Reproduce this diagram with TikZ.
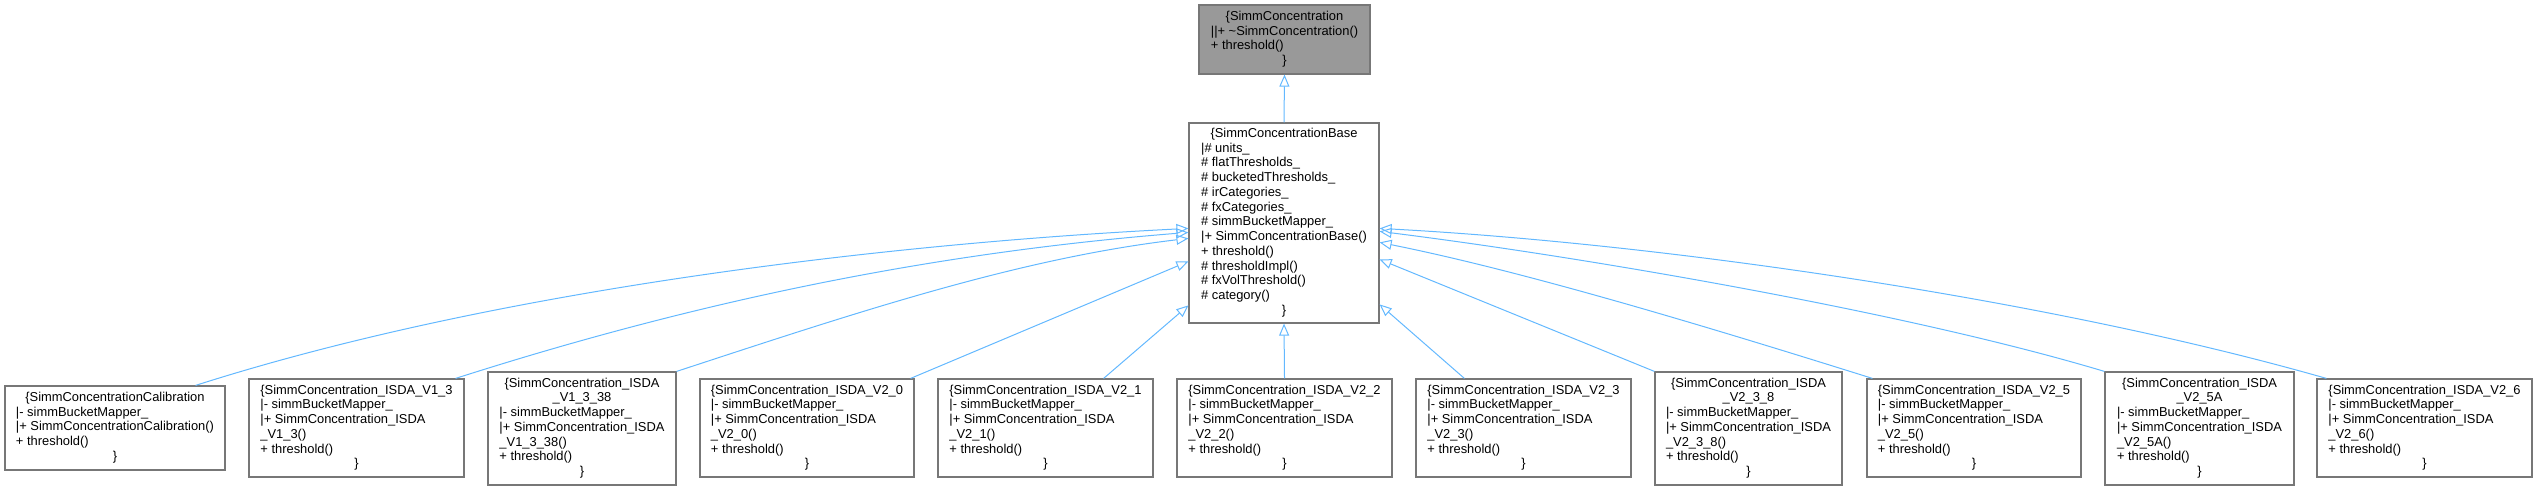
\documentclass[tikz,border=0pt]{standalone}
\usepackage{fontspec}
\setmainfont{Liberation Sans}
\usetikzlibrary{arrows.meta}
\definecolor{borde}{HTML}{777777}
\definecolor{relleno}{HTML}{999999}
\definecolor{herencia}{HTML}{63B8FF}
\newcommand{\centrado}[1]{\multicolumn{1}{@{}c@{}}{#1}}

\begin{document}
\begin{tikzpicture}[x=1pt,y=-1pt,
	clase/.style={draw=borde,line width=1.2pt,fill=white,inner sep=0pt,font=\fontsize{12.9}{14.75}\selectfont},
	hereda/.style={draw=herencia,line width=1pt,-{Triangle[open,length=12pt,width=10pt]}}]
			\useasboundingbox (0,0) rectangle (2537,491);

			% Clases base
			\node[clase,fill=relleno,minimum width=171pt,minimum height=69pt] (conc) at (1284.5,39.5) {\begin{tabular}{@{}l@{}}\centrado{\{SimmConcentration}\\||+ \textasciitilde SimmConcentration()\\+ threshold()\\\centrado{\}}\end{tabular}};
			\node[clase,minimum width=190pt,minimum height=200pt] (base) at (1284,223) {\begin{tabular}{@{}l@{}}\centrado{\{SimmConcentrationBase}\\|\# units\_\\\# flatThresholds\_\\\# bucketedThresholds\_\\\# irCategories\_\\\# fxCategories\_\\\# simmBucketMapper\_\\|+ SimmConcentrationBase()\\+ threshold()\\\# thresholdImpl()\\\# fxVolThreshold()\\\# category()\\\centrado{\}}\end{tabular}};

			% Clases hijas
			\node[clase,minimum width=220pt,minimum height=84pt] (calib) at (115,428) {\begin{tabular}{@{}l@{}}\centrado{\{SimmConcentrationCalibration}\\|- simmBucketMapper\_\\|+ SimmConcentrationCalibration()\\+ threshold()\\\centrado{\}}\end{tabular}};
			\node[clase,minimum width=215pt,minimum height=98pt] (v13) at (356.5,428) {\begin{tabular}{@{}l@{}}\centrado{\{SimmConcentration\_ISDA\_V1\_3}\\|- simmBucketMapper\_\\|+ SimmConcentration\_ISDA\\\_V1\_3()\\+ threshold()\\\centrado{\}}\end{tabular}};
			\node[clase,minimum width=188pt,minimum height=113pt] (v1338) at (582,428.5) {\begin{tabular}{@{}l@{}}\centrado{\{SimmConcentration\_ISDA}\\\centrado{\_V1\_3\_38}\\|- simmBucketMapper\_\\|+ SimmConcentration\_ISDA\\\_V1\_3\_38()\\+ threshold()\\\centrado{\}}\end{tabular}};
			\node[clase,minimum width=214pt,minimum height=98pt] (v20) at (807,428) {\begin{tabular}{@{}l@{}}\centrado{\{SimmConcentration\_ISDA\_V2\_0}\\|- simmBucketMapper\_\\|+ SimmConcentration\_ISDA\\\_V2\_0()\\+ threshold()\\\centrado{\}}\end{tabular}};
			\node[clase,minimum width=215pt,minimum height=98pt] (v21) at (1045.5,428) {\begin{tabular}{@{}l@{}}\centrado{\{SimmConcentration\_ISDA\_V2\_1}\\|- simmBucketMapper\_\\|+ SimmConcentration\_ISDA\\\_V2\_1()\\+ threshold()\\\centrado{\}}\end{tabular}};
			\node[clase,minimum width=215pt,minimum height=98pt] (v22) at (1284.5,428) {\begin{tabular}{@{}l@{}}\centrado{\{SimmConcentration\_ISDA\_V2\_2}\\|- simmBucketMapper\_\\|+ SimmConcentration\_ISDA\\\_V2\_2()\\+ threshold()\\\centrado{\}}\end{tabular}};
			\node[clase,minimum width=215pt,minimum height=98pt] (v23) at (1523.5,428) {\begin{tabular}{@{}l@{}}\centrado{\{SimmConcentration\_ISDA\_V2\_3}\\|- simmBucketMapper\_\\|+ SimmConcentration\_ISDA\\\_V2\_3()\\+ threshold()\\\centrado{\}}\end{tabular}};
			\node[clase,minimum width=187pt,minimum height=113pt] (v238) at (1748.5,428.5) {\begin{tabular}{@{}l@{}}\centrado{\{SimmConcentration\_ISDA}\\\centrado{\_V2\_3\_8}\\|- simmBucketMapper\_\\|+ SimmConcentration\_ISDA\\\_V2\_3\_8()\\+ threshold()\\\centrado{\}}\end{tabular}};
			\node[clase,minimum width=214pt,minimum height=98pt] (v25) at (1974,428) {\begin{tabular}{@{}l@{}}\centrado{\{SimmConcentration\_ISDA\_V2\_5}\\|- simmBucketMapper\_\\|+ SimmConcentration\_ISDA\\\_V2\_5()\\+ threshold()\\\centrado{\}}\end{tabular}};
			\node[clase,minimum width=189pt,minimum height=113pt] (v25a) at (2199.5,428.5) {\begin{tabular}{@{}l@{}}\centrado{\{SimmConcentration\_ISDA}\\\centrado{\_V2\_5A}\\|- simmBucketMapper\_\\|+ SimmConcentration\_ISDA\\\_V2\_5A()\\+ threshold()\\\centrado{\}}\end{tabular}};
			\node[clase,minimum width=215pt,minimum height=98pt] (v26) at (2424.5,428) {\begin{tabular}{@{}l@{}}\centrado{\{SimmConcentration\_ISDA\_V2\_6}\\|- simmBucketMapper\_\\|+ SimmConcentration\_ISDA\\\_V2\_6()\\+ threshold()\\\centrado{\}}\end{tabular}};

			% Herencia
			\draw[hereda] (base.north) -- (conc.south);

			\draw[hereda] ([xshift=-30pt]calib.north east) .. controls +(300,-96) and +(-300,15) .. ([yshift=-106pt]base.north west);
			\draw[hereda] ([xshift=-9pt]v13.north east) .. controls +(250,-80) and +(-250,20) .. ([yshift=-110pt]base.north west);
			\draw[hereda] (v1338.north east) .. controls +(180,-59) and +(-170,20) .. ([yshift=-116pt]base.north west);
			\draw[hereda] ([xshift=-4pt]v20.north east) -- ([yshift=-139pt]base.north west);
			\draw[hereda] ([xshift=-50pt]v21.north east) -- ([yshift=-183pt]base.north west);
			\draw[hereda] (v22.north) -- (base.south);
			\draw[hereda] ([xshift=49pt]v23.north west) -- ([yshift=-182pt]base.north east);
			\draw[hereda] (v238.north west) -- ([yshift=-137pt]base.north east);
			\draw[hereda] ([xshift=6pt]v25.north west) .. controls +(-150,-47) and +(150,30) .. ([yshift=-120pt]base.north east);
			\draw[hereda] (v25a.north west) .. controls +(-200,-60) and +(200,25) .. ([yshift=-109pt]base.north east);
			\draw[hereda] ([xshift=10pt]v26.north west) .. controls +(-280,-80) and +(280,15) .. ([yshift=-106pt]base.north east);

		    \end{tikzpicture}
\end{document}
